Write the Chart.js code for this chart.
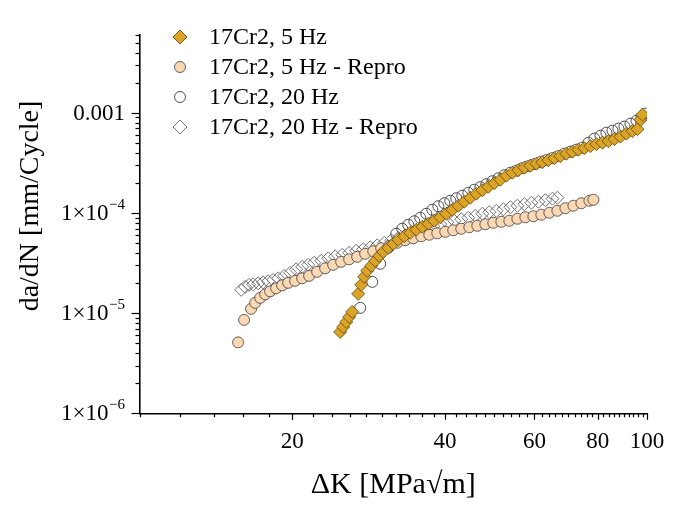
<!DOCTYPE html>
<html><head><meta charset="utf-8">
<script src="https://cdn.jsdelivr.net/npm/chart.js@4.4.1/dist/chart.umd.min.js"></script>
<style>html,body{margin:0;padding:0;background:#fff;}canvas{display:block}</style>
</head><body>
<canvas id="c" width="684" height="511"></canvas>
<script>
// ---- data ----
const seriesNames = ['17Cr2, 5 Hz', '17Cr2, 5 Hz - Repro', '17Cr2, 20 Hz', '17Cr2, 20 Hz - Repro'];

const k5Hz = [24.86,25.20,25.55,25.89,26.25,26.97,27.35,27.72,28.10,28.62,29.14,29.68,30.22,30.92,31.62,32.35,
  33.24,34.16,35.11,36.08,37.08,38.10,39.15,40.24,41.35,42.49,43.66,44.87,46.11,47.38,48.69,50.03,51.41,
  52.84,54.29,55.79,57.33,58.91,60.54,62.21,63.93,65.69,67.50,
  69.37,71.28,73.25,75.27,77.36,79.50,81.69,83.95,86.27,88.65,91.10,93.62,95.79,97.09,97.98];
const v5Hz = [6.50e-6,7.29e-6,8.18e-6,9.18e-6,1.030e-5,1.560e-5,1.919e-5,2.307e-5,2.649e-5,2.972e-5,3.334e-5,3.741e-5,4.102e-5,4.498e-5,4.932e-5,5.408e-5,
  5.861e-5,6.353e-5,6.808e-5,7.295e-5,7.816e-5,8.375e-5,9.078e-5,9.840e-5,1.079e-4,1.183e-4,1.297e-4,1.422e-4,1.560e-4,1.690e-4,1.832e-4,1.986e-4,2.153e-4,
  2.360e-4,2.529e-4,2.679e-4,2.838e-4,2.972e-4,3.112e-4,3.221e-4,3.373e-4,3.532e-4,3.698e-4,
  3.917e-4,4.102e-4,4.295e-4,4.446e-4,4.656e-4,4.875e-4,5.047e-4,5.224e-4,5.470e-4,5.794e-4,6.209e-4,6.577e-4,6.887e-4,8.57e-4,9.62e-4];

const k5HzRepro = [15.64,16.07,16.59,16.90,17.29,17.69,18.09,18.59,19.10,19.63,20.26,20.92,21.59,22.39,23.22,24.08,24.97,25.89,26.85,27.84,
  28.88,29.94,31.05,32.20,33.39,34.62,35.91,37.24,38.61,40.04,41.52,43.06,44.66,46.31,48.02,49.79,51.64,53.55,55.53,57.59,
  59.71,61.92,64.21,66.59,69.06,71.61,74.26,77.01,78.42];
const v5HzRepro = [5.11e-6,8.57e-6,1.104e-5,1.268e-5,1.422e-5,1.542e-5,1.652e-5,1.770e-5,1.897e-5,2.009e-5,2.104e-5,2.228e-5,2.360e-5,2.588e-5,2.805e-5,3.041e-5,3.258e-5,3.451e-5,3.656e-5,3.917e-5,
  4.150e-5,4.446e-5,4.710e-5,5.047e-5,5.346e-5,5.598e-5,5.861e-5,6.067e-5,6.281e-5,6.501e-5,6.730e-5,6.966e-5,7.211e-5,7.464e-5,7.727e-5,7.998e-5,8.185e-5,8.375e-5,8.770e-5,9.078e-5,
  9.290e-5,9.616e-5,1.007e-4,1.054e-4,1.117e-4,1.183e-4,1.253e-4,1.327e-4,1.358e-4];

const k20Hz = [27.22,28.75,29.81,30.92,32.06,32.94,33.85,34.79,35.75,36.74,37.76,38.80,39.87,40.97,42.10,43.26,44.46,45.68,46.95,48.24,
  49.58,50.94,52.36,53.80,55.29,56.81,58.38,59.99,61.65,63.35,65.10,66.90,68.75,70.65,72.60,74.61,76.66,78.78,80.96,83.19,
  85.50,87.85,90.28,92.78,95.35,97.53,99.32];
const v20Hz = [1.130e-5,2.056e-5,3.112e-5,4.498e-5,6.209e-5,6.966e-5,7.638e-5,8.279e-5,8.974e-5,9.840e-5,1.079e-4,1.169e-4,1.253e-4,1.327e-4,1.406e-4,1.489e-4,1.596e-4,1.710e-4,1.811e-4,1.941e-4,
  2.080e-4,2.228e-4,2.388e-4,2.529e-4,2.649e-4,2.805e-4,2.938e-4,3.076e-4,3.221e-4,3.373e-4,3.532e-4,3.698e-4,3.917e-4,4.102e-4,4.295e-4,4.498e-4,5.047e-4,5.534e-4,5.929e-4,6.353e-4,
  6.653e-4,6.966e-4,7.295e-4,7.816e-4,8.375e-4,8.974e-4,9.840e-4];

const k20HzRepro = [15.86,16.15,16.44,16.75,17.13,17.52,17.93,18.34,18.76,19.28,19.81,20.35,20.92,21.49,22.09,22.80,23.54,24.30,25.09,25.89,
  26.73,27.60,28.49,29.41,30.36,31.34,32.36,33.39,34.47,35.59,36.74,37.93,39.13,40.40,41.71,43.06,44.45,45.89,47.38,48.91,
  50.49,52.12,53.81,55.53,57.33,59.19,61.10,63.07,65.11,66.59];
const v20HzRepro = [1.710e-5,1.832e-5,1.919e-5,1.941e-5,1.986e-5,2.032e-5,2.080e-5,2.153e-5,2.228e-5,2.360e-5,2.529e-5,2.742e-5,2.904e-5,3.041e-5,3.184e-5,3.334e-5,3.532e-5,3.698e-5,3.828e-5,4.009e-5,
  4.198e-5,4.345e-5,4.550e-5,4.764e-5,5.047e-5,5.346e-5,5.662e-5,5.998e-5,6.353e-5,6.730e-5,7.047e-5,7.379e-5,7.727e-5,8.091e-5,8.375e-5,8.670e-5,8.974e-5,9.397e-5,9.840e-5,1.019e-4,
  1.054e-4,1.091e-4,1.143e-4,1.183e-4,1.225e-4,1.268e-4,1.297e-4,1.343e-4,1.390e-4,1.422e-4];

// axis ticks
const xTickValues = [10,12,14,16,18,20,22,24,26,28,30,32,34,36,38,40,42,44,46,48,50,52,54,56,58,60,62,64,66,68,70,72,74,76,78,80,82,84,86,88,90,92,94,96,98,100];
const xMajorValues = [20,40,60,80,100];
const xMajorLabels = ['20','40','60','80','100'];
const yTickValues = [1e-6,2e-6,3e-6,4e-6,5e-6,6e-6,7e-6,8e-6,9e-6,
  1e-5,2e-5,3e-5,4e-5,5e-5,6e-5,7e-5,8e-5,9e-5,
  1e-4,2e-4,3e-4,4e-4,5e-4,6e-4,7e-4,8e-4,9e-4,
  1e-3,2e-3,3e-3,4e-3,5e-3,6e-3];
const yMajorValues = [1e-6,1e-5,1e-4,1e-3];
const yLabelBase = ['1×10','1×10','1×10','0.001'];
const yLabelExp = ['−6','−5','−4',''];
const xTitle = 'ΔK [MPa√m]';
const yTitle = 'da/dN [mm/Cycle]';

// ---- styles ----
const SERIF = '"Liberation Serif", "Times New Roman", serif';
const styles = [
  {pointStyle:'rectRot', radius:6.5, bg:'#DBA426', border:'#5a4410', bw:0.8},
  {pointStyle:'circle', radius:5.5, bg:'#FBD8B4', border:'#3c3c3c', bw:0.8},
  {pointStyle:'circle', radius:5.5, bg:'rgba(0,0,0,0)', border:'#4a4a4a', bw:1},
  {pointStyle:'rectRot', radius:6.5, bg:'rgba(0,0,0,0)', border:'#707070', bw:1}
];
const seriesK = [k5Hz, k5HzRepro, k20Hz, k20HzRepro];
const seriesV = [v5Hz, v5HzRepro, v20Hz, v20HzRepro];

const datasets = seriesNames.map((name, i) => ({
  label: name,
  data: seriesK[i].map((k, j) => ({x: k, y: seriesV[i][j]})),
  showLine: false,
  pointStyle: styles[i].pointStyle,
  pointRadius: styles[i].radius,
  pointBackgroundColor: styles[i].bg,
  pointBorderColor: styles[i].border,
  pointBorderWidth: styles[i].bw,
  pointHoverRadius: styles[i].radius
}));

function near(a, b) { return Math.abs(Math.log10(a) - Math.log10(b)) < 1e-6; }

const decor = {
  id: 'decor',
  beforeDraw(chart) {
    const c = chart.ctx;
    c.save(); c.fillStyle = '#fff'; c.fillRect(0, 0, chart.width, chart.height); c.restore();
  },
  afterDraw(chart) {
    const c = chart.ctx;
    const xs = chart.scales.x, ys = chart.scales.y;
    const area = chart.chartArea;
    c.save();
    c.strokeStyle = '#000';
    c.lineWidth = 1.2;
    // x ticks (outward)
    xTickValues.forEach(v => {
      const px = Math.round(xs.getPixelForValue(v)) + 0.5;
      const len = xMajorValues.some(m => near(m, v)) ? 6.5 : 4;
      c.beginPath(); c.moveTo(px, area.bottom); c.lineTo(px, area.bottom + len); c.stroke();
    });
    // y ticks (outward)
    yTickValues.forEach(v => {
      const py = Math.round(ys.getPixelForValue(v)) + 0.5;
      const len = yMajorValues.some(m => near(m, v)) ? 8 : 4;
      c.beginPath(); c.moveTo(area.left, py); c.lineTo(area.left - len, py); c.stroke();
    });
    // y tick labels with superscript exponents
    c.fillStyle = '#000';
    const R = 125;
    yMajorValues.forEach((v, i) => {
      const py = ys.getPixelForValue(v);
      c.font = '15px ' + SERIF;
      const supW = yLabelExp[i] ? c.measureText(yLabelExp[i]).width : 0;
      if (yLabelExp[i]) {
        c.textAlign = 'left'; c.textBaseline = 'alphabetic';
        c.fillText(yLabelExp[i], R - supW, py - 4);
      }
      c.font = '23px ' + SERIF;
      c.textAlign = 'right'; c.textBaseline = 'middle';
      c.fillText(yLabelBase[i], R - supW - (supW ? 0.5 : 0), py + 1);
    });
    // y title
    c.font = '28px ' + SERIF;
    c.textAlign = 'center'; c.textBaseline = 'middle';
    c.translate(31, 206);
    c.rotate(-Math.PI / 2);
    c.fillText(yTitle, 0, 0);
    c.restore();

    // legend
    c.save();
    const lx = 180, tx = 209, rows = [37, 67, 97, 127];
    c.font = '24px ' + SERIF;
    c.textAlign = 'left'; c.textBaseline = 'middle';
    seriesNames.forEach((name, i) => {
      const s = styles[i], y = rows[i];
      c.beginPath();
      if (s.pointStyle === 'circle') {
        c.arc(lx, y, s.radius, 0, Math.PI * 2);
      } else {
        const r = s.radius + 0.5;
        c.moveTo(lx, y - r); c.lineTo(lx + r, y); c.lineTo(lx, y + r); c.lineTo(lx - r, y); c.closePath();
      }
      c.fillStyle = s.bg; c.fill();
      c.lineWidth = s.bw; c.strokeStyle = s.border; c.stroke();
      c.fillStyle = '#000';
      c.fillText(name, tx, y + 1);
    });
    c.restore();
  }
};

new Chart(document.getElementById('c'), {
  type: 'scatter',
  data: { datasets },
  options: {
    responsive: false,
    animation: false,
    events: [],
    layout: { padding: { top: 35, right: 37, left: 0, bottom: 0 } },
    plugins: { legend: { display: false }, tooltip: { enabled: false } },
    scales: {
      x: {
        type: 'logarithmic', min: 10, max: 100, position: 'bottom',
        afterBuildTicks: s => { s.ticks = xTickValues.map(v => ({value: v})); },
        afterFit: s => { s.height = 97.7; },
        grid: { display: true, drawOnChartArea: false, drawTicks: false, color: 'rgba(0,0,0,0)' },
        border: { display: true, color: '#000', width: 1.6 },
        ticks: {
          autoSkip: false, maxRotation: 0, minRotation: 0, padding: 15, color: '#000',
          font: { family: SERIF, size: 23 },
          callback: v => { const i = xMajorValues.findIndex(m => near(m, v)); return i >= 0 ? xMajorLabels[i] : ''; }
        },
        title: { display: true, text: xTitle, color: '#000', font: { family: SERIF, size: 30 }, padding: { top: 0, bottom: 8 } }
      },
      y: {
        type: 'logarithmic', min: 1e-6, max: 6e-3, position: 'left',
        afterBuildTicks: s => { s.ticks = yTickValues.map(v => ({value: v})); },
        afterFit: s => { s.width = 139.5; },
        grid: { display: true, drawOnChartArea: false, drawTicks: false, color: 'rgba(0,0,0,0)' },
        border: { display: true, color: '#000', width: 1.6 },
        ticks: { display: false },
        title: { display: false }
      }
    }
  },
  plugins: [decor]
});
</script>
</body></html>
